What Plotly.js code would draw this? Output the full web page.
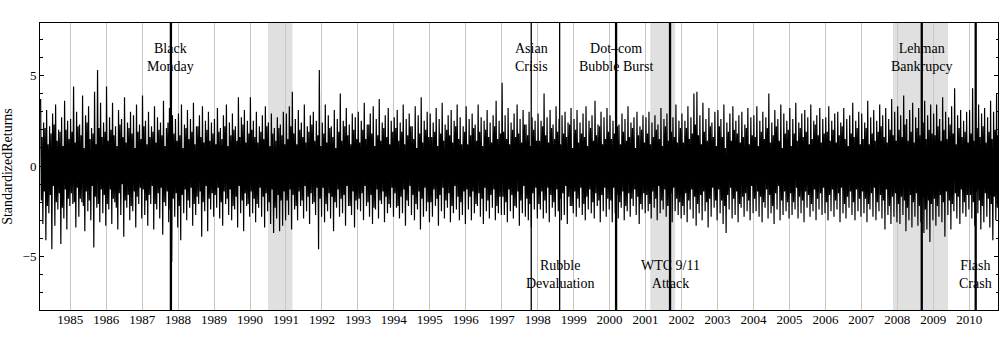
<!DOCTYPE html>
<html>
<head>
<meta charset="utf-8">
<script src="https://cdn.plot.ly/plotly-3.0.1.min.js"></script>
<style>
  html, body { margin: 0; padding: 0; background: #fff; }
  #chart { width: 1000px; height: 345px; }
</style>
</head>
<body>
<div id="chart"></div>
<script>
// monthly swings of the standardized returns
// first month is March 1984, last is October 2010
var firstYear = 1984;
var firstMonth = 2;

// largest up move of each month
var upSwing = [
  3.7, 2.4, 3.1, 2.2, 2.9, 3.4, 2.0, 2.7, 3.6, 2.5,                 // 1984
  2.6, 4.4, 3.0, 2.3, 3.9, 2.8, 3.3, 2.1, 4.1, 5.3, 3.5, 2.4,       // 1985
  4.4, 2.7, 3.5, 2.2, 3.1, 2.6, 3.8, 2.4, 3.0, 2.8, 3.4, 2.3,       // 1986
  3.9, 2.5, 3.0, 2.2, 3.3, 2.7, 2.4, 3.6, 2.1, 3.2, 2.8, 2.6,       // 1987
  2.9, 3.4, 2.3, 3.1, 2.6, 3.5, 2.2, 2.8, 3.3, 2.5, 3.0, 2.4,       // 1988
  2.6, 3.2, 2.1, 2.8, 3.4, 2.4, 2.9, 2.2, 3.8, 2.7, 3.1, 2.5,       // 1989
  3.8, 2.5, 3.0, 2.2, 2.8, 3.3, 2.4, 2.9, 2.1, 2.7, 2.3, 3.0,       // 1990
  2.9, 3.3, 4.1, 2.6, 3.1, 2.4, 3.4, 2.2, 2.8, 3.0, 2.5, 5.3,       // 1991
  2.4, 3.4, 2.8, 2.2, 3.1, 2.6, 4.0, 2.5, 3.2, 2.3, 2.9, 2.7,       // 1992
  3.0, 2.5, 3.5, 2.3, 2.9, 3.3, 2.6, 3.7, 2.4, 2.8, 3.2, 2.5,       // 1993
  2.7, 3.1, 2.4, 3.4, 2.6, 2.9, 2.2, 3.3, 2.8, 3.8, 2.5, 3.0,       // 1994
  2.9, 2.4, 3.2, 2.6, 3.5, 2.3, 2.8, 3.1, 2.5, 3.4, 2.7, 2.2,       // 1995
  3.3, 2.6, 2.9, 2.3, 3.4, 2.7, 2.5, 3.1, 2.4, 2.8, 3.6, 2.5,       // 1996
  4.6, 2.8, 3.2, 2.4, 2.9, 3.4, 2.6, 3.1, 2.3, 3.0, 2.7, 2.5,       // 1997
  2.9, 2.5, 4.0, 2.7, 3.1, 2.3, 3.3, 2.6, 2.8, 3.0, 2.4, 3.2,       // 1998
  2.6, 3.1, 2.4, 2.9, 3.3, 2.5, 2.8, 3.6, 2.3, 3.0, 2.7, 3.2,       // 1999
  2.8, 2.5, 3.1, 2.3, 2.9, 2.6, 3.3, 2.4, 2.7, 3.0, 2.2, 2.8,       // 2000
  2.7, 3.0, 2.4, 2.8, 2.3, 3.2, 2.6, 2.9, 2.5, 2.7, 3.4, 2.5,       // 2001
  2.9, 2.5, 3.3, 2.7, 4.0, 4.1, 2.8, 3.5, 2.6, 3.2, 2.4, 3.0,       // 2002
  3.1, 2.6, 3.4, 2.4, 2.9, 3.3, 2.5, 2.8, 3.0, 2.3, 3.2, 2.7,       // 2003
  2.8, 3.3, 2.5, 3.0, 2.7, 4.0, 2.4, 3.1, 2.6, 3.4, 2.9, 2.5,       // 2004
  3.2, 2.6, 3.5, 2.4, 2.9, 3.1, 2.7, 3.4, 2.5, 2.8, 3.2, 2.6,       // 2005
  2.7, 3.3, 2.5, 2.9, 3.0, 2.4, 3.2, 2.6, 2.8, 3.5, 2.5, 3.0,       // 2006
  2.9, 2.4, 3.6, 2.7, 3.1, 2.5, 3.4, 2.8, 3.2, 2.6, 3.7, 3.0,       // 2007
  3.3, 2.8, 3.9, 2.6, 3.1, 3.5, 2.7, 3.2, 2.9, 3.6, 2.8, 3.4,       // 2008
  2.9, 3.4, 2.6, 3.8, 3.0, 2.7, 3.3, 4.3, 2.8, 3.1, 2.5, 3.0,       // 2009
  3.1, 4.3, 2.6, 3.4, 2.9, 3.2, 2.7, 3.6, 3.0, 4.0                  // 2010
];

// largest down move of each month
var downSwing = [
  -3.2, -4.1, -2.6, -4.6, -3.3, -2.4, -4.3, -2.9, -3.5, -2.2,                   // 1984
  -2.1, -3.4, -2.8, -2.0, -3.6, -2.5, -3.0, -4.5, -2.3, -3.1, -2.6, -3.3,       // 1985
  -2.4, -3.2, -2.0, -3.5, -2.7, -3.9, -2.3, -3.0, -2.5, -3.4, -2.1, -2.9,       // 1986
  -2.7, -3.3, -2.1, -3.5, -2.4, -2.9, -3.8, -2.2, -3.1, -5.3, -2.8, -3.4,       // 1987
  -4.1, -2.6, -3.0, -2.3, -3.3, -2.7, -2.1, -3.9, -2.5, -3.6, -2.4, -2.8,       // 1988
  -2.3, -2.9, -3.3, -2.1, -2.7, -3.0, -2.4, -3.4, -2.6, -3.6, -2.2, -2.8,       // 1989
  -2.6, -3.1, -2.3, -2.8, -3.4, -2.5, -3.2, -3.7, -2.9, -3.6, -3.3, -3.0,       // 1990
  -2.7, -3.5, -2.4, -3.0, -2.2, -2.9, -2.5, -3.2, -2.1, -2.7, -4.6, -2.8,       // 1991
  -3.1, -2.5, -2.9, -3.6, -2.3, -2.8, -2.6, -3.3, -2.2, -2.7, -3.4, -2.4,       // 1992
  -2.5, -3.0, -2.2, -2.8, -3.2, -2.4, -2.9, -2.1, -3.1, -2.6, -2.3, -2.8,       // 1993
  -2.3, -2.9, -2.6, -3.3, -2.2, -2.7, -3.0, -2.4, -3.5, -2.8, -2.5, -3.1,       // 1994
  -2.8, -2.2, -3.3, -2.5, -2.9, -2.3, -3.1, -2.6, -2.4, -3.0, -2.7, -3.2,       // 1995
  -2.4, -3.0, -2.6, -2.2, -2.8, -3.2, -2.5, -2.9, -2.3, -3.0, -2.6, -2.7,       // 1996
  -2.7, -3.1, -2.5, -2.9, -2.3, -3.3, -2.6, -2.8, -3.0, -3.4, -2.4, -2.9,       // 1997
  -2.4, -2.9, -2.6, -3.1, -2.3, -2.8, -2.5, -3.0, -2.7, -3.2, -2.2, -2.6,       // 1998
  -2.8, -2.3, -2.7, -3.0, -2.4, -2.6, -2.9, -2.2, -3.1, -2.5, -2.8, -2.4,       // 1999
  -3.1, -2.6, -2.9, -2.3, -3.0, -2.5, -2.8, -2.2, -2.7, -3.2, -2.4, -2.6,       // 2000
  -2.5, -2.9, -2.3, -3.0, -2.6, -2.4, -2.8, -2.2, -3.1, -2.5, -2.7, -2.9,       // 2001
  -2.7, -3.1, -2.4, -2.9, -3.3, -2.6, -3.0, -2.5, -3.4, -2.8, -2.3, -3.0,       // 2002
  -2.6, -3.2, -3.7, -2.4, -2.9, -2.7, -3.1, -2.3, -2.8, -2.5, -3.0, -2.6,       // 2003
  -2.5, -2.8, -3.1, -2.3, -2.9, -2.6, -3.2, -2.4, -3.0, -2.7, -2.5, -2.9,       // 2004
  -2.7, -2.4, -2.9, -2.6, -3.1, -2.3, -2.8, -2.5, -3.0, -2.4, -2.7, -2.6,       // 2005
  -3.0, -2.5, -2.8, -2.4, -3.1, -2.6, -2.9, -2.3, -2.7, -3.0, -2.5, -2.8,       // 2006
  -2.6, -3.1, -2.4, -2.8, -3.0, -2.5, -2.9, -3.5, -2.7, -3.2, -2.8, -3.1,       // 2007
  -3.2, -2.7, -3.6, -3.0, -3.4, -2.8, -3.3, -3.1, -3.7, -3.5, -4.2, -3.0,       // 2008
  -3.3, -2.8, -3.1, -3.9, -2.7, -3.5, -2.5, -2.9, -3.2, -2.6, -2.8, -2.4,       // 2009
  -2.9, -3.3, -2.6, -3.5, -3.1, -2.8, -3.4, -4.1, -3.0, -3.2                    // 2010
];

// smaller swings inside each month (the dense core of the band)
var innerUp = [
  1.6, 2.1, 1.2, 1.8, 2.3, 1.4, 1.9, 1.1, 2.0, 1.5,                 // 1984
  1.9, 1.3, 2.2, 1.7, 1.0, 2.4, 1.5, 1.8, 1.2, 2.1, 1.6, 1.9,       // 1985
  1.4, 2.0, 1.7, 1.1, 2.3, 1.6, 1.3, 2.1, 1.8, 1.0, 1.9, 1.5,       // 1986
  2.2, 1.2, 1.6, 1.9, 1.3, 2.0, 1.7, 1.1, 2.4, 1.5, 1.8, 1.4,       // 1987
  1.7, 1.0, 2.1, 1.5, 1.9, 1.2, 2.2, 1.6, 1.3, 2.0, 1.4, 1.8,       // 1988
  1.2, 1.9, 1.5, 2.2, 1.1, 1.7, 2.0, 1.4, 1.6, 2.3, 1.3, 1.8,       // 1989
  2.0, 1.6, 1.3, 1.9, 1.5, 2.2, 1.1, 1.8, 1.4, 2.1, 1.7, 1.2,       // 1990
  1.5, 2.2, 1.8, 1.2, 2.0, 1.6, 1.3, 1.9, 2.3, 1.4, 1.7, 1.1,       // 1991
  1.8, 1.3, 2.1, 1.6, 1.0, 1.9, 1.4, 2.2, 1.7, 1.2, 2.0, 1.5,       // 1992
  1.3, 2.0, 1.5, 2.3, 1.8, 1.1, 1.7, 1.4, 2.1, 1.6, 1.2, 1.9,       // 1993
  2.1, 1.4, 1.9, 1.2, 1.7, 2.2, 1.5, 1.0, 1.8, 1.3, 2.0, 1.6,       // 1994
  1.6, 1.9, 1.1, 1.8, 1.4, 2.0, 1.7, 1.3, 2.2, 1.5, 1.2, 1.9,       // 1995
  1.2, 1.7, 2.1, 1.4, 1.9, 1.1, 2.0, 1.6, 1.3, 2.2, 1.5, 1.8,       // 1996
  1.9, 1.5, 1.2, 2.0, 1.6, 1.8, 1.3, 2.3, 1.7, 1.1, 2.0, 1.4,       // 1997
  1.4, 2.2, 1.7, 1.3, 2.1, 1.5, 1.9, 1.2, 1.8, 1.6, 2.3, 1.0,       // 1998
  2.0, 1.3, 1.8, 1.6, 1.1, 2.1, 1.4, 1.7, 2.2, 1.2, 1.5, 1.9,       // 1999
  1.5, 1.8, 2.2, 1.2, 1.9, 1.4, 1.6, 2.1, 1.0, 1.7, 2.0, 1.3,       // 2000
  1.8, 1.2, 1.6, 2.0, 1.5, 1.1, 2.2, 1.4, 1.9, 1.6, 1.3, 2.1,       // 2001
  1.3, 2.1, 1.5, 1.8, 2.3, 1.7, 1.2, 1.9, 1.4, 2.2, 1.6, 1.1,       // 2002
  2.2, 1.6, 1.0, 1.9, 1.4, 2.0, 1.8, 1.3, 1.6, 2.1, 1.2, 1.7,       // 2003
  1.6, 1.1, 1.9, 1.5, 2.1, 1.3, 1.7, 2.2, 1.4, 1.0, 1.8, 2.0,       // 2004
  1.1, 1.8, 1.4, 2.1, 1.6, 1.9, 1.2, 1.5, 2.3, 1.7, 1.3, 1.8,       // 2005
  1.9, 1.4, 2.0, 1.3, 1.7, 2.2, 1.5, 1.1, 1.8, 1.6, 2.1, 1.2,       // 2006
  1.5, 2.1, 1.2, 1.8, 1.4, 1.9, 2.2, 1.6, 1.3, 2.0, 1.7, 1.4,       // 2007
  2.0, 1.6, 2.3, 1.4, 1.9, 1.3, 2.1, 1.7, 2.4, 1.5, 2.0, 1.8,       // 2008
  1.7, 2.2, 1.4, 2.0, 1.5, 2.3, 1.8, 1.2, 2.1, 1.6, 1.9, 1.3,       // 2009
  1.8, 1.4, 2.1, 1.6, 2.2, 1.3, 1.9, 1.5, 2.0, 1.7                  // 2010
];

var innerDown = [
  -1.9, -1.4, -2.2, -1.6, -1.1, -2.0, -1.5, -2.3, -1.3, -1.8,                   // 1984
  -1.5, -2.0, -1.2, -1.8, -2.2, -1.4, -1.9, -1.1, -1.7, -2.1, -1.3, -1.6,       // 1985
  -2.1, -1.3, -1.8, -2.3, -1.5, -1.0, -1.9, -1.6, -2.2, -1.4, -1.7, -1.2,       // 1986
  -1.3, -1.9, -1.6, -1.1, -2.1, -1.5, -1.2, -2.0, -1.4, -2.4, -1.8, -1.5,       // 1987
  -2.2, -1.6, -1.3, -1.9, -1.2, -2.1, -1.7, -1.4, -2.0, -1.1, -1.8, -1.5,       // 1988
  -1.6, -1.2, -2.0, -1.4, -1.8, -1.3, -2.2, -1.7, -1.1, -1.9, -1.5, -2.1,       // 1989
  -1.4, -1.8, -2.1, -1.2, -1.7, -1.5, -2.0, -1.3, -2.3, -1.6, -1.9, -1.4,       // 1990
  -1.9, -1.3, -1.6, -2.2, -1.4, -1.9, -1.1, -1.7, -1.5, -2.0, -1.2, -1.8,       // 1991
  -1.2, -2.1, -1.5, -1.7, -2.0, -1.3, -1.8, -1.6, -1.1, -2.2, -1.4, -1.9,       // 1992
  -1.8, -1.5, -1.1, -2.0, -1.6, -2.3, -1.3, -1.9, -1.4, -1.7, -2.1, -1.2,       // 1993
  -1.5, -2.2, -1.7, -1.3, -1.9, -1.1, -1.6, -2.1, -1.4, -1.8, -1.2, -2.0,       // 1994
  -2.0, -1.3, -1.8, -1.6, -1.2, -1.9, -1.5, -2.2, -1.1, -1.7, -2.0, -1.4,       // 1995
  -1.3, -1.7, -1.4, -2.1, -1.5, -1.8, -1.2, -1.9, -1.6, -1.3, -2.2, -1.7,       // 1996
  -1.7, -2.0, -1.3, -1.6, -2.2, -1.4, -1.9, -1.1, -1.8, -2.1, -1.5, -1.2,       // 1997
  -2.1, -1.4, -1.9, -1.2, -1.6, -2.0, -1.3, -1.8, -1.5, -1.1, -1.7, -2.2,       // 1998
  -1.4, -1.8, -1.2, -2.1, -1.7, -1.3, -2.0, -1.5, -1.9, -1.6, -1.2, -1.8,       // 1999
  -1.9, -1.2, -1.6, -2.0, -1.4, -2.2, -1.5, -1.8, -1.3, -1.7, -2.1, -1.5,       // 2000
  -1.6, -2.1, -1.4, -1.8, -1.1, -1.9, -1.3, -2.2, -1.5, -1.2, -1.8, -2.0,       // 2001
  -2.2, -1.5, -1.9, -1.3, -1.7, -2.1, -1.6, -1.4, -2.0, -1.8, -1.2, -1.9,       // 2002
  -1.3, -1.9, -2.2, -1.6, -1.2, -1.8, -1.4, -2.1, -1.7, -1.5, -1.9, -1.1,       // 2003
  -1.8, -1.4, -1.7, -2.0, -1.3, -1.6, -2.2, -1.5, -1.1, -1.9, -1.4, -2.0,       // 2004
  -1.5, -2.0, -1.2, -1.7, -1.9, -1.4, -1.6, -2.1, -1.3, -1.8, -1.5, -1.2,       // 2005
  -2.0, -1.6, -1.3, -1.9, -1.5, -1.2, -2.1, -1.7, -1.4, -2.0, -1.3, -1.8,       // 2006
  -1.4, -1.8, -2.1, -1.5, -1.2, -2.0, -1.6, -1.9, -1.3, -2.2, -1.7, -1.5,       // 2007
  -2.1, -1.7, -1.9, -2.3, -1.6, -2.0, -1.5, -2.2, -1.8, -2.4, -1.9, -2.1,       // 2008
  -1.8, -2.2, -1.6, -2.0, -1.4, -1.9, -2.1, -1.5, -1.7, -1.3, -2.0, -1.6,       // 2009
  -1.6, -2.0, -1.4, -1.9, -2.2, -1.5, -1.8, -2.1, -1.7, -2.3                    // 2010
];

// shaded recession periods (decimal years)
var recessionStart = [1990.50, 2001.13, 2007.88];
var recessionEnd   = [1991.18, 2001.82, 2009.41];

// market events
var eventNames = ['Black<br>Monday', 'Asian<br>Crisis', 'Rubble<br>Devaluation', 'Dot\u2013com<br>Bubble Burst',
                  'WTC 9/11<br>Attack', 'Lehman<br>Bankrupcy', 'Flash<br>Crash'];
var eventDates = [1987.80, 1997.82, 1998.61, 2000.18, 2001.68, 2008.68, 2010.18];
var eventTop   = [true, true, false, true, false, true, false];
var eventBold  = [true, false, false, true, true, true, true];

var tickYears = [];
for (var yr = 1985; yr <= 2010; yr++) tickYears.push(yr);

// lay the four swings of each month out along the time axis
var xs = [], ys = [];
for (var k = 0; k < upSwing.length; k++) {
  var m = firstYear + (firstMonth + k) / 12;
  xs.push(m + 0.125 / 12); ys.push(upSwing[k]);
  xs.push(m + 0.375 / 12); ys.push(innerDown[k]);
  xs.push(m + 0.625 / 12); ys.push(innerUp[k]);
  xs.push(m + 0.875 / 12); ys.push(downSwing[k]);
}

var serif = 'Liberation Serif, Times New Roman, serif';

var returnsTrace = {
  x: xs, y: ys,
  type: 'scatter',
  mode: 'lines',
  line: {color: '#000', width: 1.2, simplify: false},
  hoverinfo: 'skip'
};

var shapes = [];
for (var i = 0; i < recessionStart.length; i++) {
  shapes.push({
    type: 'rect', layer: 'below',
    xref: 'x', yref: 'paper',
    x0: recessionStart[i], x1: recessionEnd[i], y0: 0, y1: 1,
    fillcolor: '#e0e0e0', line: {width: 0}
  });
}

var annotations = [];
for (var j = 0; j < eventDates.length; j++) {
  shapes.push({
    type: 'line', layer: 'above',
    xref: 'x', yref: 'paper',
    x0: eventDates[j], x1: eventDates[j], y0: 0, y1: 1,
    line: {color: '#000', width: eventBold[j] ? 2.3 : 1.3}
  });
  annotations.push({
    xref: 'x', yref: 'paper',
    x: eventDates[j], y: eventTop[j] ? 0.88 : 0.125,
    xanchor: 'center', yanchor: 'middle',
    text: eventNames[j], showarrow: false,
    font: {family: serif, size: 14, color: '#000'}
  });
}

var layout = {
  width: 1000, height: 345,
  margin: {l: 40, r: 2, t: 23, b: 35},
  paper_bgcolor: '#fff', plot_bgcolor: '#fff',
  showlegend: false,
  font: {family: serif, size: 13, color: '#000'},
  xaxis: {
    range: [1984.16, 2010.80],
    tickvals: tickYears,
    ticktext: tickYears.map(String),
    showgrid: true, gridcolor: '#c8c8c8', gridwidth: 1,
    zeroline: false,
    showline: true, linecolor: '#000', linewidth: 1, mirror: true,
    ticks: '',
    ticklabelstandoff: -3,
    tickfont: {family: serif, size: 13, color: '#000'}
  },
  yaxis: {
    range: [-7.95, 7.9],
    tickvals: [-5, 0, 5],
    showgrid: false, zeroline: false,
    showline: true, linecolor: '#000', linewidth: 1, mirror: 'ticks',
    ticks: 'inside', ticklen: 4, tickcolor: '#000',
    minor: {dtick: 1, ticks: 'inside', ticklen: 2.5, tickcolor: '#000', showgrid: false},
    tickfont: {family: serif, size: 13, color: '#000'},
    title: {text: 'StandardizedReturns', font: {family: serif, size: 14, color: '#000'}, standoff: 8}
  },
  shapes: shapes,
  annotations: annotations
};

Plotly.newPlot('chart', [returnsTrace], layout, {staticPlot: true});
</script>
</body>
</html>
